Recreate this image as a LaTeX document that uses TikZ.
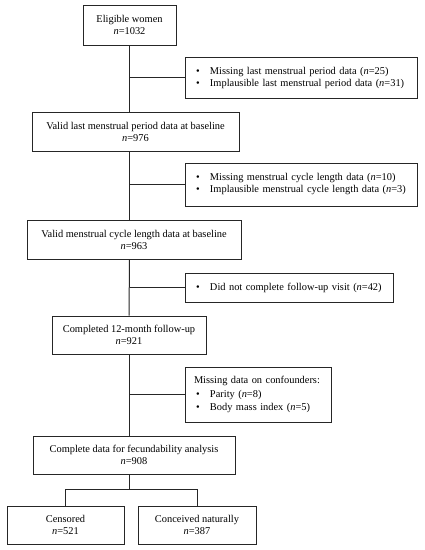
\documentclass[tikz,border=0pt]{standalone}
\usepackage{fontspec}
\setmainfont{Liberation Serif}
\newcommand{\myitem}[1]{\makebox[16pt][l]{\hspace{2pt}\textbullet}#1}
\begin{document}
\begin{tikzpicture}[x=1pt,y=-1pt,
  box/.style={draw=black!85, line width=1pt, align=center, inner sep=0pt,
    font=\fontsize{10.4}{12}\selectfont},
  ebox/.style={draw=black!85, line width=1pt, align=left, inner xsep=9pt, inner ysep=0pt,
    font=\fontsize{10.4}{12}\selectfont},
  link/.style={draw=black!85, line width=1pt}]
\useasboundingbox (0,0) rectangle (424,550);
\fill[white] (0,0) rectangle (424,550);
% main boxes
\node[box, minimum width=93, minimum height=40] (b1) at (129.5,25) {Eligible women\\\textit{n}=1032};
\node[box, minimum width=207, minimum height=39] (b2) at (135.5,131.5) {Valid last menstrual period data at baseline\\\textit{n}=976};
\node[box, minimum width=214, minimum height=39] (b3) at (134,239.5) {Valid menstrual cycle length data at baseline\\\textit{n}=963};
\node[box, minimum width=154, minimum height=38] (b4) at (129,335) {Completed 12-month follow-up\\\textit{n}=921};
\node[box, minimum width=202, minimum height=38] (b5) at (134,455) {Complete data for fecundability analysis\\\textit{n}=908};
\node[box, minimum width=117, minimum height=38] (b6) at (65.5,525) {Censored\\\textit{n}=521};
\node[box, minimum width=118, minimum height=38] (b7) at (197,525) {Conceived naturally\\\textit{n}=387};
% exclusion boxes
\node[ebox, text width=214, minimum height=41] (e1) at (301,77.5)
  {\myitem{Missing last menstrual period data (\textit{n}=25)}\\\myitem{Implausible last menstrual period data (\textit{n}=31)}};
\node[ebox, text width=214, minimum height=43] (e2) at (301,184.5)
  {\myitem{Missing menstrual cycle length data (\textit{n}=10)}\\\myitem{Implausible menstrual cycle length data (\textit{n}=3)}};
\node[ebox, text width=190, minimum height=29] (e3) at (289,287.5)
  {\myitem{Did not complete follow-up visit (\textit{n}=42)}};
\node[ebox, text width=128, minimum height=55, font=\fontsize{10.4}{13.5}\selectfont] (e4) at (258,394.5)
  {Missing data on confounders:\\\myitem{Parity (\textit{n}=8)}\\\myitem{Body mass index (\textit{n}=5)}};
% trunk
\path[link] (b1.south) -- (b1.south |- b2.north);
\path[link] (b1.south |- b2.south) -- (b1.south |- b3.north);
\path[link] (b1.south |- b3.south) -- (b4.north);
\path[link] (b4.south) -- (b4.south |- b5.north);
% branches
\path[link] (e1.west) -- (e1.west -| b1.south);
\path[link] (e2.west) -- (e2.west -| b1.south);
\path[link] (e3.west) -- (e3.west -| b1.south);
\path[link] (e4.west) -- (e4.west -| b4.south);
% split
\coordinate (s) at (129,489);
\path[link] (b5.south -| s) -- (s);
\path[link] (b6.north) -- (b6.north |- s) -- (b7.north |- s) -- (b7.north);
\end{tikzpicture}
\end{document}
